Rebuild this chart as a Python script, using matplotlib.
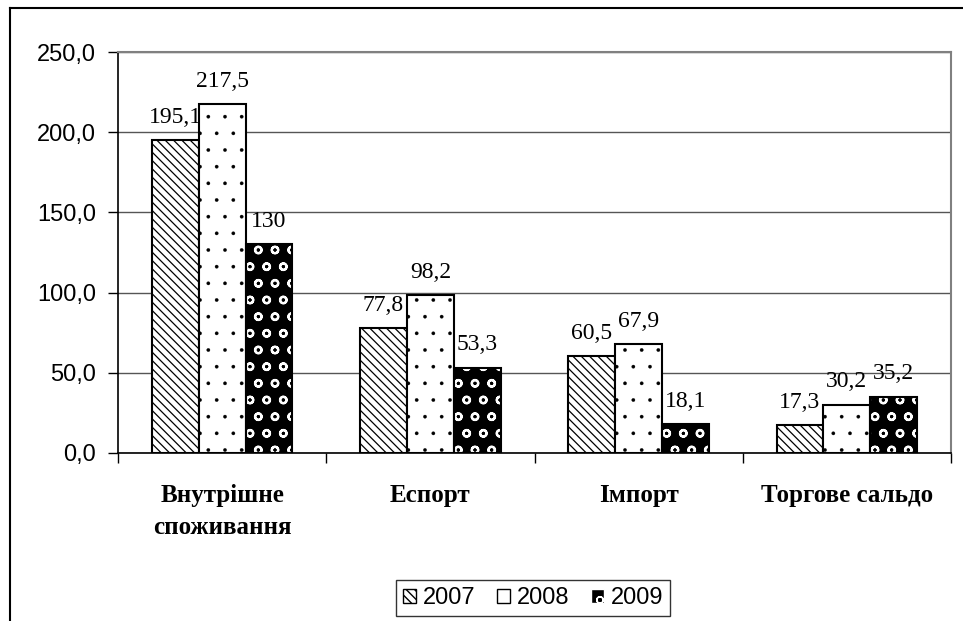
import matplotlib
matplotlib.use("Agg")
import matplotlib.pyplot as plt
from matplotlib.lines import Line2D
from matplotlib.patches import Patch
import numpy as np

categories = ["Внутрішне\nспоживання", "Еспорт", "Імпорт", "Торгове сальдо"]
years = ["2007", "2008", "2009"]
v2007 = [195.1, 77.8, 60.5, 17.3]
v2008 = [217.5, 98.2, 67.9, 30.2]
v2009 = [130, 53.3, 18.1, 35.2]
yticks = [0, 50, 100, 150, 200, 250]

W, H = 963, 621
fig = plt.figure(figsize=(W/100, H/100), dpi=100)
ax = fig.add_axes([118/W, 1-453/H, (951-118)/W, (453-52)/H])

x = np.arange(len(categories))
bw = 0.225
series = [v2007, v2008, v2009]
offs = [-bw, 0, bw]

def fmt(v):
    s = ("%g" % v)
    return s.replace(".", ",")

def set_hlw(patches, lw):
    for p in patches:
        try:
            p.set_hatch_linewidth(lw)
        except Exception:
            pass

# 2007 diagonal hatch
b1 = ax.bar(x + offs[0], v2007, bw, facecolor="white", edgecolor="black", hatch="\\\\\\\\", linewidth=1.5, zorder=3)
set_hlw(b1, 0.9)
# 2008 dots
b2 = ax.bar(x + offs[1], v2008, bw, facecolor="white", edgecolor="black", hatch=".", linewidth=1.5, zorder=3)
set_hlw(b2, 0.2)
# 2009 dark pattern
b3 = ax.bar(x + offs[2], v2009, bw, facecolor="black", edgecolor="white", hatch="o", linewidth=0, zorder=3)
set_hlw(b3, 1.6)
ax.bar(x + offs[2], v2009, bw, facecolor="none", edgecolor="black", linewidth=1.5, zorder=4)

for vals, off in zip(series, offs):
    for xi, v in zip(x, vals):
        ax.annotate(fmt(v), (xi + off, v), xytext=(0, 12.5), textcoords="offset points",
                    ha="center", va="baseline", fontsize=17, family="Liberation Serif", zorder=5)

ax.set_xlim(-0.5, 3.5)
ax.set_ylim(0, 250)
ax.set_yticks(yticks)
ax.set_yticklabels([("%.1f" % t).replace(".", ",") for t in yticks], family="Liberation Sans", fontsize=17)
ax.tick_params(axis="y", length=7, width=1, pad=9, direction="out")
ax.yaxis.grid(True, color="#555555", linewidth=1, zorder=0)
ax.set_axisbelow(True)

ax.set_xticks(x)
ax.set_xticklabels(categories, family="Liberation Serif", fontweight="bold", fontsize=18, linespacing=1.5)
ax.tick_params(axis="x", which="major", length=0, pad=22)
ax.set_xticks(np.arange(-0.5, 4.0, 1.0), minor=True)
ax.tick_params(axis="x", which="minor", length=7, width=1, direction="out")

for s in ["left", "bottom"]:
    ax.spines[s].set_color("black")
    ax.spines[s].set_linewidth(1.2)
for s in ["top", "right"]:
    ax.spines[s].set_color("#808080")
    ax.spines[s].set_linewidth(1.5)

handles = [Patch(facecolor="white", edgecolor="black", hatch="\\\\\\\\", label="2007"),
           Patch(facecolor="white", edgecolor="black", label="2008"),
           Patch(facecolor="black", edgecolor="white", hatch="o", label="2009")]
leg = fig.legend(handles=handles, loc="center", bbox_to_anchor=(533/W, 1-598/H), ncol=3,
                 frameon=True, fancybox=False, prop={"family": "Liberation Sans", "size": 17},
                 handlelength=0.55, handleheight=0.55, handletextpad=0.3, columnspacing=0.9,
                 borderpad=0.3, edgecolor="black")
leg.get_frame().set_linewidth(1.0)

# outer chart frame (cropped at right/bottom)
fig.add_artist(Line2D([10/W, 10/W], [0, 1-8/H], transform=fig.transFigure, color="black", linewidth=1.5))
fig.add_artist(Line2D([10/W, 1], [1-8/H, 1-8/H], transform=fig.transFigure, color="black", linewidth=1.5))

fig.savefig("out.png", dpi=100)
